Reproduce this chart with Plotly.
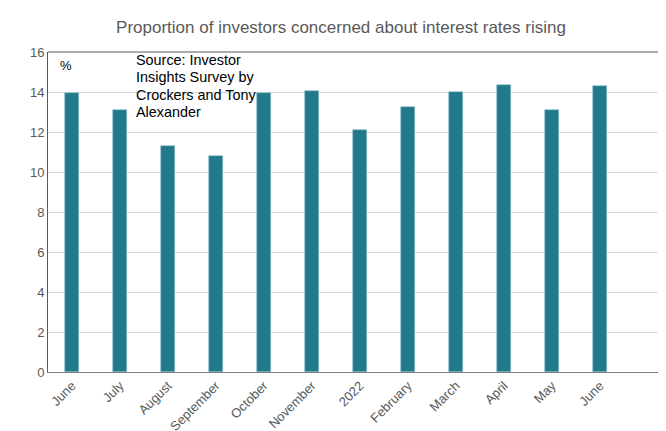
import plotly.graph_objects as go

categories = ["June", "July", "August", "September", "October", "November",
              "2022", "February", "March", "April", "May", "June"]
values = [13.95, 13.08, 11.3, 10.8, 13.95, 14.03, 12.12, 13.27, 13.98, 14.37, 13.12, 14.3]
y_ticks = [0, 2, 4, 6, 8, 10, 12, 14, 16]
source_lines = ["Source: Investor", "Insights Survey by", "Crockers and Tony", "Alexander"]

x_pos = list(range(len(categories)))
FONT = "Liberation Sans, Arial, sans-serif"

fig = go.Figure()
fig.add_trace(go.Bar(
    x=x_pos, y=values, width=0.31,
    marker=dict(color="#217A8A", line=dict(color="#8fbcc5", width=0.6)),
    hoverinfo="skip",
))

fig.update_layout(
    width=666, height=431,
    margin=dict(l=40, r=2, t=44, b=67, autoexpand=False),
    paper_bgcolor="white", plot_bgcolor="white",
    showlegend=False,
    bargap=0,
    title=dict(text="Proportion of investors concerned about interest rates rising",
               x=0.5, xref="container", xanchor="center", y=1 - 19 / 431, yanchor="middle",
               font=dict(family=FONT, size=17, color="#595959")),
    font=dict(family=FONT, size=13, color="#595959"),
)

fig.update_xaxes(
    range=[-0.5, 12.5], tickvals=x_pos, ticktext=categories, tickangle=-45,
    showgrid=False, showline=True, linecolor="#808080", linewidth=1,
    ticks="", zeroline=False, automargin=False,
    tickfont=dict(family=FONT, size=13, color="#595959"),
)
fig.update_yaxes(
    range=[0, 16], tickvals=y_ticks, showgrid=True, gridcolor="#d9d9d9",
    gridwidth=1, showline=True, linecolor="#595959", linewidth=1,
    ticks="", zeroline=False, automargin=False,
    tickfont=dict(family=FONT, size=13, color="#595959"),
)

# top border line
fig.add_shape(type="line", xref="paper", yref="paper", x0=0, x1=1, y0=1, y1=1,
              line=dict(color="#595959", width=1))

fig.add_annotation(text="%", xref="paper", yref="paper", x=(50 - 40) / 624, y=(364 - 57) / 320,
                   xanchor="left", yanchor="middle", showarrow=False,
                   font=dict(family=FONT, size=13, color="#000000"))

line_centers_px = [52, 69.3, 86.6, 103.9]
for txt, py in zip(source_lines, line_centers_px):
    fig.add_annotation(text=txt, xref="paper", yref="paper",
                       x=(126 - 40) / 624, y=(364 - py) / 320,
                       xanchor="left", yanchor="middle", align="left", showarrow=False,
                       font=dict(family=FONT, size=14.4, color="#000000"))

fig.write_html("out.html")
